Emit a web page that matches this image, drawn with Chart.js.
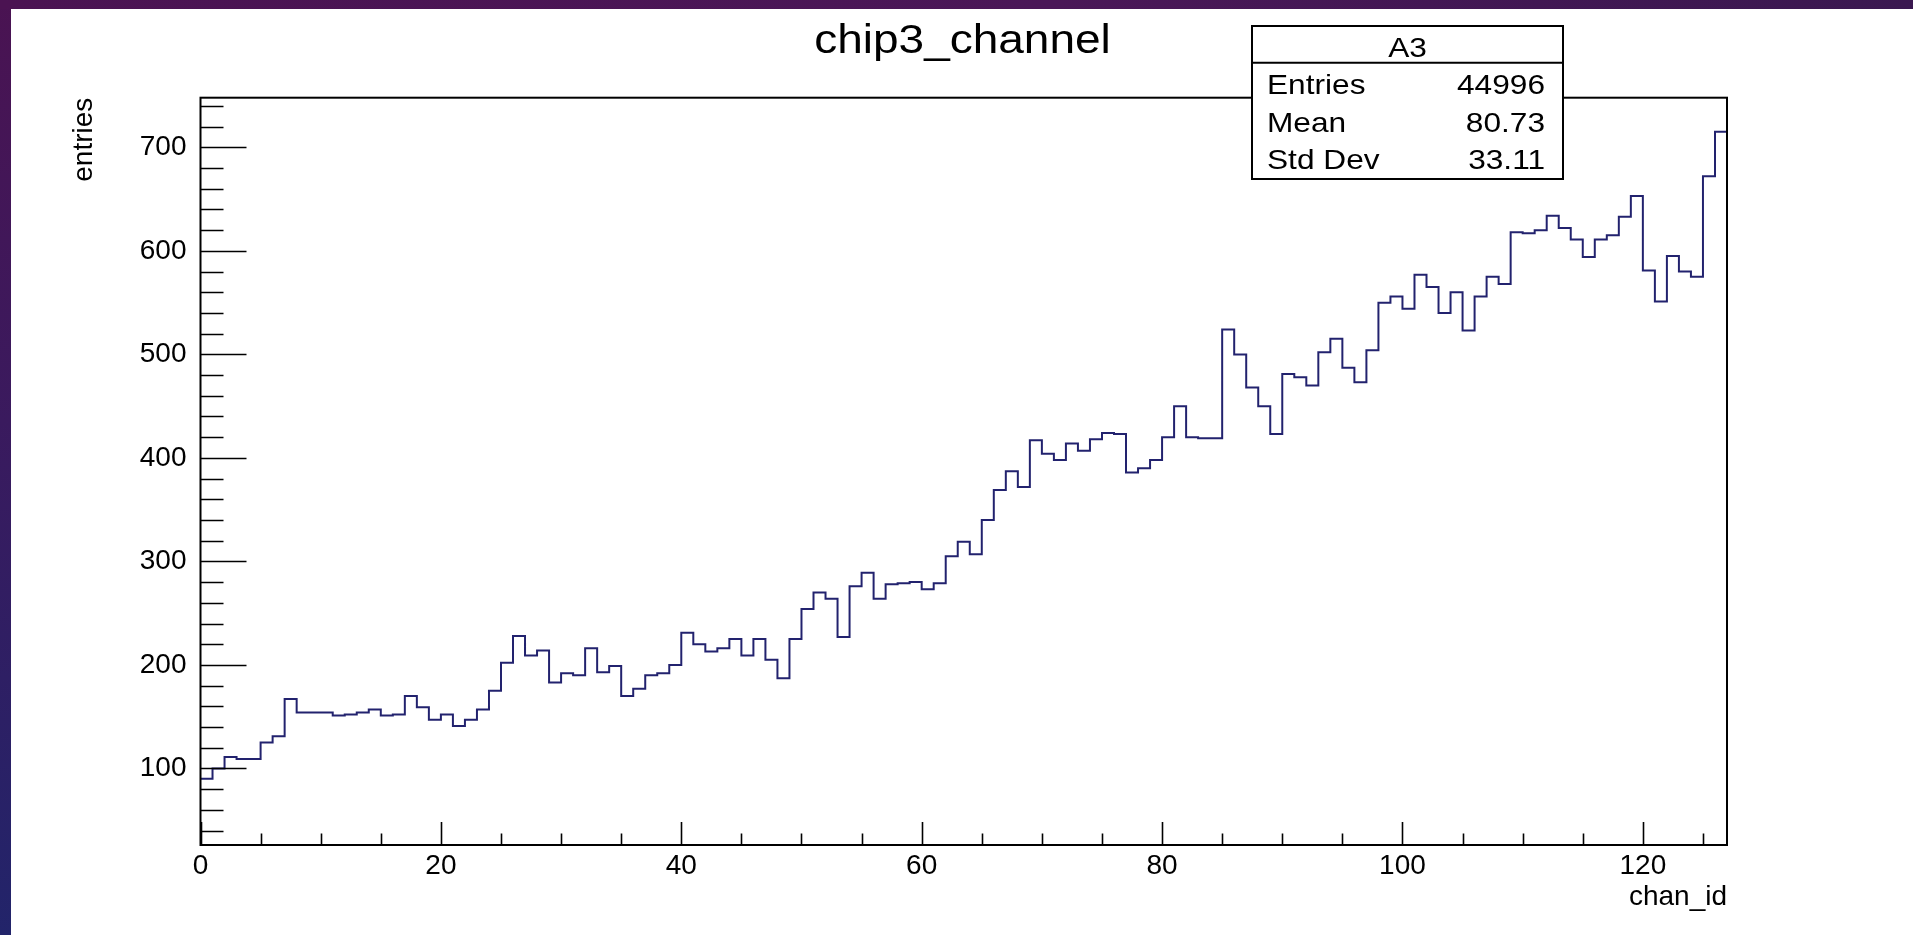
<!DOCTYPE html>
<html><head><meta charset="utf-8">
<script src="https://cdn.jsdelivr.net/npm/chart.js@4.4.1/dist/chart.umd.min.js"></script>
<style>
html,body{margin:0;padding:0;width:1913px;height:935px;overflow:hidden;}
body{position:relative;background:linear-gradient(180deg,#4a1352 0%,#3a1a5e 45%,#22246a 100%);}
#topband{position:absolute;left:0;top:0;width:1913px;height:9px;background:linear-gradient(90deg,#4b1352 0%,#4a1757 55%,#3a1850 100%);}
#paper{position:absolute;left:11px;top:9px;right:0;bottom:0;background:#ffffff;}
#wrap{position:absolute;left:0;top:0;width:1913px;height:935px;}
</style></head><body>
<div id="topband"></div><div id="paper"></div>
<div id="wrap"><canvas id="c" width="1913" height="935"></canvas></div>
<script>
// ---- data ----
const chartTitle = 'chip3_channel';
const xAxisTitle = 'chan_id';
const yAxisTitle = 'entries';
const xMin = 0, xMax = 127;
const yMin = 26, yMax = 748;
const counts = [
  90,100,111,109,109,125,131,167,154,154,
  154,151,152,154,157,151,152,170,159,147,
  152,141,147,157,175,202,228,209,214,183,
  192,190,216,193,199,170,177,190,192,200,
  231,220,213,216,225,209,225,205,187,225,
  254,270,264,227,276,289,264,278,279,280,
  273,279,305,319,307,340,369,387,372,417,
  404,398,414,407,418,424,423,386,390,398,
  420,450,420,419,419,524,500,468,450,423,
  481,478,470,502,515,487,473,504,550,556,
  544,577,565,540,560,523,556,575,568,618,
  617,620,634,622,611,594,611,615,633,653,
  581,551,595,580,575,672,715
];
const xTickValues = [0,20,40,60,80,100,120];
const yTickValues = [100,200,300,400,500,600,700];
const xMinorStep = 5;
const yMinorStep = 20;
const statsTitle = 'A3';
const statsLabels = ['Entries','Mean','Std Dev'];
const statsValues = ['44996','80.73','33.11'];

// ---- build ----
const points = counts.map((v,i)=>({x:xMin+i, y:v}));
points.push({x:xMin+counts.length, y:counts[counts.length-1]});

const FONT = '"Liberation Sans", Arial, Helvetica, sans-serif';

function wideText(ctx, text, x, y, align, sx){
  ctx.save();
  ctx.translate(x, y);
  ctx.scale(sx, 1);
  ctx.textAlign = align;
  ctx.fillText(text, 0, 0);
  ctx.restore();
}

const rootFrame = {
  id:'rootFrame',
  afterDatasetsDraw(chart){
    const {ctx, chartArea:a, scales:{x, y}} = chart;
    ctx.save();
    ctx.strokeStyle = '#000';
    ctx.lineWidth = 2;
    ctx.strokeRect(a.left, a.top, a.right-a.left, a.bottom-a.top);
    ctx.lineWidth = 1.6;
    ctx.beginPath();
    for (let v = Math.ceil(yMin / yMinorStep) * yMinorStep; v <= yMax; v += yMinorStep) {
      const p = Math.round(y.getPixelForValue(v)) + 0.5;
      const len = yTickValues.includes(v) ? 46 : 23;
      ctx.moveTo(a.left, p); ctx.lineTo(a.left + len, p);
    }
    for (let v = xMin; v <= xMax; v += xMinorStep) {
      const p = Math.round(x.getPixelForValue(v)) + 0.5;
      const len = xTickValues.includes(v) ? 23 : 11.5;
      ctx.moveTo(p, a.bottom); ctx.lineTo(p, a.bottom - len);
    }
    ctx.stroke();
    ctx.restore();
  },
  afterDraw(chart){
    const {ctx} = chart;
    ctx.save();
    ctx.fillStyle = '#000';
    ctx.textBaseline = 'alphabetic';
    ctx.font = '40px ' + FONT;
    wideText(ctx, chartTitle, 962.5, 53, 'center', 1.15);
    const L = 1252, R = 1563, T = 26, S = 62.7, B = 179;
    ctx.fillStyle = '#fff';
    ctx.fillRect(L, T, R-L, B-T);
    ctx.strokeStyle = '#000';
    ctx.lineWidth = 2;
    ctx.strokeRect(L, T, R-L, B-T);
    ctx.beginPath(); ctx.moveTo(L, S); ctx.lineTo(R, S); ctx.stroke();
    ctx.fillStyle = '#000';
    ctx.font = '28px ' + FONT;
    wideText(ctx, statsTitle, (L+R)/2, 56.5, 'center', 1.13);
    const base = [94, 131.7, 169];
    statsLabels.forEach((t,i)=>{
      wideText(ctx, t, 1267, base[i], 'left', 1.13);
      wideText(ctx, statsValues[i], 1545, base[i], 'right', 1.13);
    });
    ctx.restore();
  }
};

new Chart(document.getElementById('c'), {
  type:'line',
  data:{datasets:[{
    data:points,
    stepped:true,
    borderColor:'#22226e',
    borderWidth:2,
    pointRadius:0,
    fill:false,
    tension:0
  }]},
  options:{
    responsive:false,
    animation:false,
    events:[],
    layout:{padding:{left:0, top:97.7, right:186, bottom:0}},
    plugins:{legend:{display:false}, tooltip:{enabled:false}, title:{display:false}},
    scales:{
      x:{
        type:'linear', min:xMin, max:xMax,
        grid:{display:false, drawTicks:false},
        border:{display:false},
        afterBuildTicks:s=>{ s.ticks = xTickValues.map(v=>({value:v})); },
        afterFit:s=>{ s.height = 90; },
        ticks:{autoSkip:false, maxRotation:0, padding:4, color:'#000', font:{family:FONT, size:28}},
        title:{display:true, text:xAxisTitle, align:'end', color:'#000', font:{family:FONT, size:28}, padding:{top:0, bottom:21}}
      },
      y:{
        type:'linear', min:yMin, max:yMax,
        grid:{display:false, drawTicks:false},
        border:{display:false},
        afterBuildTicks:s=>{ s.ticks = yTickValues.map(v=>({value:v})); },
        afterFit:s=>{ s.width = 200.5; },
        ticks:{autoSkip:false, padding:14, color:'#000', font:{family:FONT, size:28}},
        title:{display:true, text:yAxisTitle, align:'end', color:'#000', font:{family:FONT, size:28}, padding:{top:67.5, bottom:0}}
      }
    }
  },
  plugins:[rootFrame]
});
</script>
</body></html>
